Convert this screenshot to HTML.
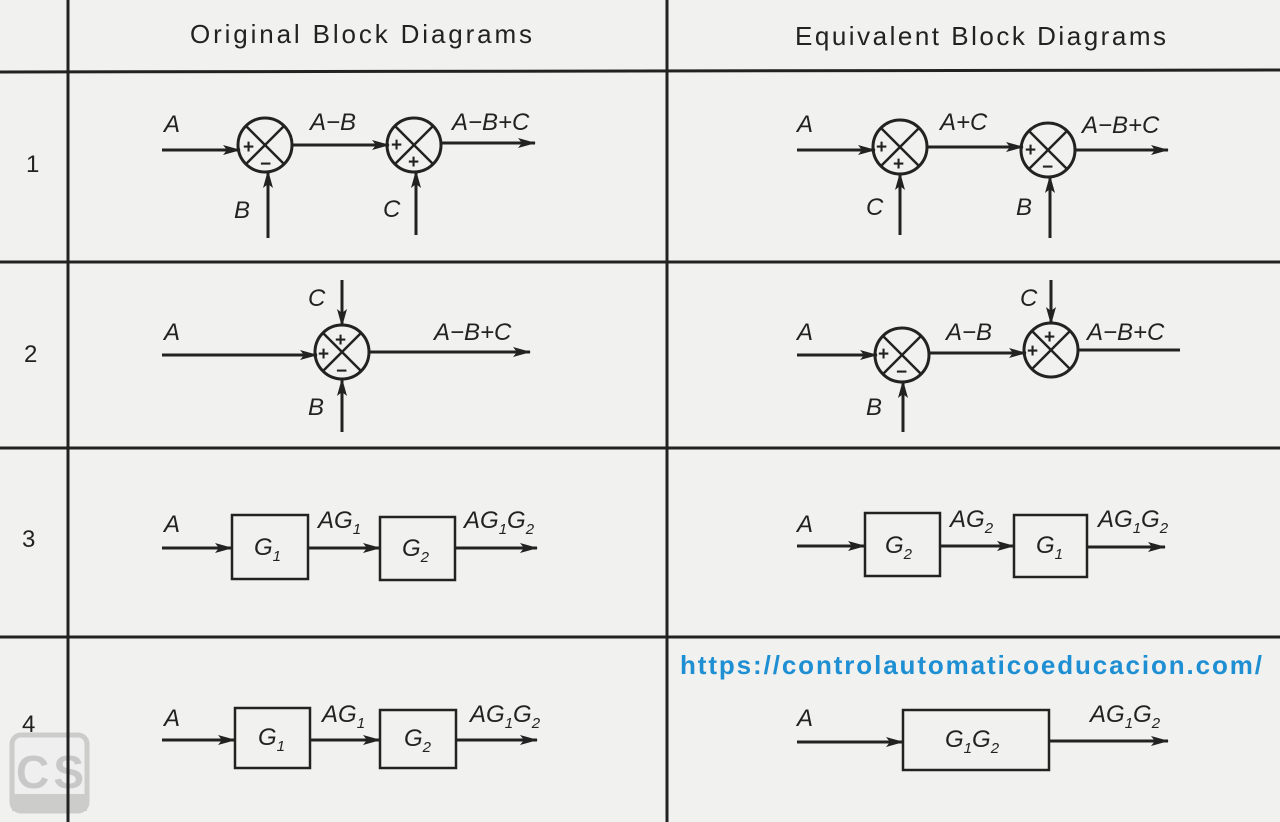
<!DOCTYPE html>
<html><head><meta charset="utf-8"><style>
body{margin:0;background:#f1f1ef}
svg{display:block}
text{font-family:"Liberation Sans",sans-serif;fill:#222}
.l{font-style:italic;font-size:24px}
.s{font-size:15px;font-style:italic}
.p{font-size:19px;font-weight:bold}
</style></head><body>
<svg width="1280" height="822" viewBox="0 0 1280 822">
<defs>
<marker id="a" markerWidth="18" markerHeight="12" refX="17" refY="6" orient="auto" markerUnits="userSpaceOnUse"><path d="M0,1 L18,6 L0,11 L4,6 Z" fill="#222"/></marker>
<g id="sj"><circle r="27" fill="none" stroke="#222" stroke-width="3"/><line x1="-19" y1="-19" x2="19" y2="19" stroke="#222" stroke-width="2.5"/><line x1="19" y1="-19" x2="-19" y2="19" stroke="#222" stroke-width="2.5"/></g>
</defs>
<rect width="1280" height="822" fill="#f1f1ef"/>
<g stroke="#222" stroke-width="3">
<line x1="68" y1="0" x2="68" y2="822"/><line x1="667" y1="0" x2="667" y2="822"/>
<line x1="0" y1="72" x2="1280" y2="70"/><line x1="0" y1="262" x2="1280" y2="262"/>
<line x1="0" y1="448" x2="1280" y2="448"/><line x1="0" y1="637" x2="1280" y2="637"/>
</g>
<text x="190" y="43" font-size="26" textLength="343" style="letter-spacing:1px">Original Block Diagrams</text>
<text x="795" y="45" font-size="26" textLength="372" style="letter-spacing:1px">Equivalent Block Diagrams</text>
<g font-size="24"><text x="26" y="172">1</text><text x="24" y="362">2</text><text x="22" y="547">3</text><text x="22" y="732">4</text></g>

<g stroke="#222" stroke-width="3" fill="none" marker-end="url(#a)">
<line x1="162" y1="150" x2="240" y2="150"/><line x1="292" y1="145" x2="389" y2="145"/><line x1="441" y1="143" x2="535" y2="143"/>
<line x1="268" y1="238" x2="268" y2="171"/><line x1="416" y1="235" x2="416" y2="171"/>
<line x1="797" y1="150" x2="875" y2="150"/><line x1="927" y1="147" x2="1023" y2="147"/><line x1="1075" y1="150" x2="1168" y2="150"/>
<line x1="900" y1="235" x2="900" y2="173"/><line x1="1050" y1="238" x2="1050" y2="176"/>
<line x1="162" y1="355" x2="317" y2="355"/><line x1="369" y1="352" x2="530" y2="352"/>
<line x1="342" y1="280" x2="342" y2="326"/><line x1="342" y1="432" x2="342" y2="379"/>
<line x1="797" y1="355" x2="877" y2="355"/><line x1="929" y1="353" x2="1026" y2="353"/>
<line x1="1051" y1="280" x2="1051" y2="324"/><line x1="903" y1="432" x2="903" y2="381"/>
<line x1="162" y1="548" x2="232" y2="548"/><line x1="308" y1="548" x2="380" y2="548"/><line x1="455" y1="548" x2="537" y2="548"/>
<line x1="797" y1="546" x2="865" y2="546"/><line x1="940" y1="546" x2="1014" y2="546"/><line x1="1087" y1="547" x2="1165" y2="547"/>
<line x1="162" y1="740" x2="235" y2="740"/><line x1="310" y1="740" x2="380" y2="740"/><line x1="456" y1="740" x2="537" y2="740"/>
<line x1="797" y1="742" x2="903" y2="742"/><line x1="1049" y1="741" x2="1168" y2="741"/>
</g>
<line x1="1078" y1="350" x2="1180" y2="350" stroke="#222" stroke-width="3"/>

<use href="#sj" x="265" y="145"/><use href="#sj" x="414" y="145"/>
<use href="#sj" x="900" y="147"/><use href="#sj" x="1048" y="150"/>
<use href="#sj" x="342" y="352"/><use href="#sj" x="902" y="355"/><use href="#sj" x="1051" y="350"/>

<g class="p">
<text x="243" y="153">+</text><text x="260" y="170">−</text>
<text x="391" y="151">+</text><text x="408" y="168">+</text>
<text x="876" y="153">+</text><text x="893" y="170">+</text>
<text x="1025" y="156">+</text><text x="1042" y="173">−</text>
<text x="335" y="346">+</text><text x="318" y="360">+</text><text x="336" y="377">−</text>
<text x="878" y="360">+</text><text x="896" y="378">−</text>
<text x="1044" y="343">+</text><text x="1027" y="357">+</text>
</g>

<g fill="none" stroke="#222" stroke-width="2.5">
<rect x="232" y="515" width="76" height="64"/><rect x="380" y="517" width="75" height="63"/>
<rect x="865" y="513" width="75" height="63"/><rect x="1014" y="515" width="73" height="62"/>
<rect x="235" y="708" width="75" height="60"/><rect x="380" y="710" width="76" height="58"/>
<rect x="903" y="710" width="146" height="60"/>
</g>

<g class="l">
<text x="164" y="132">A</text><text x="310" y="130">A−B</text><text x="452" y="130">A−B+C</text><text x="234" y="218">B</text><text x="383" y="217">C</text>
<text x="797" y="132">A</text><text x="940" y="130">A+C</text><text x="1082" y="133">A−B+C</text><text x="866" y="215">C</text><text x="1016" y="215">B</text>
<text x="164" y="340">A</text><text x="308" y="306">C</text><text x="434" y="340">A−B+C</text><text x="308" y="415">B</text>
<text x="797" y="340">A</text><text x="946" y="340">A−B</text><text x="1020" y="306">C</text><text x="1087" y="340">A−B+C</text><text x="866" y="415">B</text>
<text x="164" y="532">A</text><text x="797" y="532">A</text><text x="164" y="726">A</text><text x="797" y="726">A</text>
<text x="254" y="555">G<tspan class="s" dy="6">1</tspan></text>
<text x="318" y="528">AG<tspan class="s" dy="6">1</tspan></text>
<text x="402" y="556">G<tspan class="s" dy="6">2</tspan></text>
<text x="464" y="528">AG<tspan class="s" dy="6">1</tspan><tspan dy="-6">G</tspan><tspan class="s" dy="6">2</tspan></text>
<text x="885" y="553">G<tspan class="s" dy="6">2</tspan></text>
<text x="950" y="527">AG<tspan class="s" dy="6">2</tspan></text>
<text x="1036" y="553">G<tspan class="s" dy="6">1</tspan></text>
<text x="1098" y="527">AG<tspan class="s" dy="6">1</tspan><tspan dy="-6">G</tspan><tspan class="s" dy="6">2</tspan></text>
<text x="258" y="745">G<tspan class="s" dy="6">1</tspan></text>
<text x="322" y="722">AG<tspan class="s" dy="6">1</tspan></text>
<text x="404" y="746">G<tspan class="s" dy="6">2</tspan></text>
<text x="470" y="722">AG<tspan class="s" dy="6">1</tspan><tspan dy="-6">G</tspan><tspan class="s" dy="6">2</tspan></text>
<text x="945" y="747">G<tspan class="s" dy="6">1</tspan><tspan dy="-6">G</tspan><tspan class="s" dy="6">2</tspan></text>
<text x="1090" y="722">AG<tspan class="s" dy="6">1</tspan><tspan dy="-6">G</tspan><tspan class="s" dy="6">2</tspan></text>
</g>

<text x="680" y="674" font-size="26" font-weight="bold" textLength="582" style="fill:#1f8fd3">https://controlautomaticoeducacion.com/</text>

<g opacity="0.9">
<rect x="12" y="735" width="75" height="76" rx="9" fill="#efefef" stroke="#c8c8c8" stroke-width="5"/>
<rect x="12" y="794" width="75" height="17" fill="#c8c8c8"/>
<text x="16" y="788" font-size="46" font-weight="bold" textLength="68" style="fill:#c4c4c4">CS</text>
</g>
<line x1="68" y1="700" x2="68" y2="822" stroke="#222" stroke-width="3"/>
</svg>
</body></html>
